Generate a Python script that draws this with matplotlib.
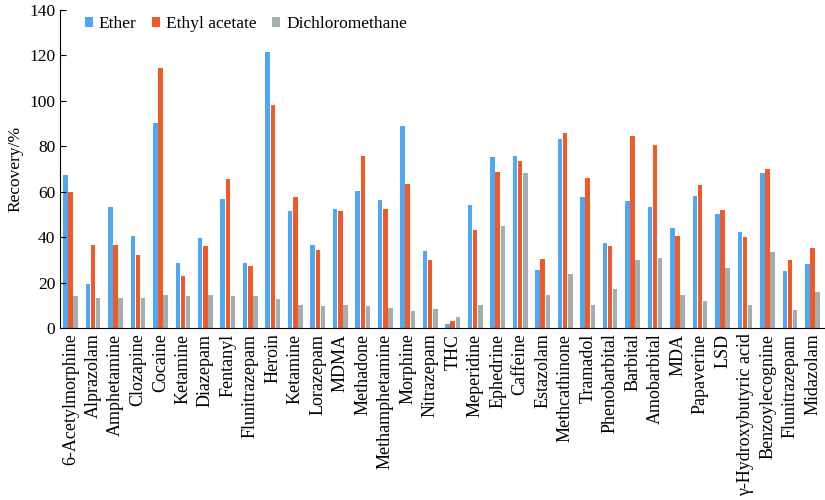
import matplotlib
matplotlib.use("Agg")
import matplotlib.pyplot as plt
import numpy as np

plt.rcParams['font.family'] = ['Liberation Serif', 'DejaVu Serif']

drugs = ['6-Acetylmorphine', 'Alprazolam', 'Amphetamine', 'Clozapine', 'Cocaine',
         'Ketamine', 'Diazepam', 'Fentanyl', 'Flunitrazepam', 'Heroin', 'Ketamine',
         'Lorazepam', 'MDMA', 'Methadone', 'Methamphetamine', 'Morphine', 'Nitrazepam',
         'THC', 'Meperidine', 'Ephedrine', 'Caffeine', 'Estazolam', 'Methcathinone',
         'Tramadol', 'Phenobarbital', 'Barbital', 'Amobarbital', 'MDA', 'Papaverine',
         'LSD', 'γ-Hydroxybutyric acid', 'Benzoylecognine', 'Flunitrazepam', 'Midazolam']

ether = [67.2, 19.5, 53.2, 40.5, 90.3, 28.6, 39.7, 56.7, 28.4, 121.4, 51.6,
         36.5, 52.3, 60.3, 56.2, 89.0, 34.0, 1.9, 54.3, 75.2, 75.8, 25.7, 83.1,
         57.8, 37.4, 55.9, 53.4, 44.0, 58.2, 50.3, 42.1, 68.3, 25.2, 28.3]
ethyl_acetate = [59.8, 36.5, 36.4, 32.3, 114.5, 22.7, 36.1, 65.8, 27.4, 98.2, 57.8,
                 34.2, 51.5, 75.7, 52.5, 63.5, 30.0, 3.2, 43.3, 68.6, 73.5, 30.2, 85.8,
                 66.0, 36.1, 84.5, 80.6, 40.6, 63.0, 52.0, 40.2, 70.1, 30.0, 35.3]
dichloromethane = [13.9, 13.3, 13.3, 13.3, 14.4, 14.2, 14.7, 13.9, 13.9, 12.8, 10.0,
                   9.5, 10.0, 9.7, 8.8, 7.6, 8.5, 5.0, 10.3, 45.0, 68.3, 14.7, 23.9,
                   10.3, 17.2, 30.0, 30.8, 14.4, 12.0, 26.5, 10.3, 33.6, 7.9, 16.0]

fig = plt.figure(figsize=(8.25, 5), dpi=100)
ax = fig.add_axes([0.073, 0.344, 0.927, 0.636])

x = np.arange(len(drugs))
w = 0.2
step = 0.225
ax.bar(x - step, ether, w, color='#4ea8f4', label='Ether')
ax.bar(x, ethyl_acetate, w, color='#ef5a28', label='Ethyl acetate')
ax.bar(x + step, dichloromethane, w, color='#a2aeb0', label='Dichloromethane')

ax.set_xlim(-0.45, len(drugs) - 0.45)
ax.set_ylim(0, 140)
ax.set_yticks(range(0, 141, 20))
ax.set_xticks(x)
ax.set_xticklabels(drugs, rotation=90, fontsize=13)
ax.tick_params(axis='y', direction='in', length=4, labelsize=12.5)
ax.tick_params(axis='x', length=0, pad=4)
ax.spines['top'].set_visible(False)
ax.spines['right'].set_visible(False)
ax.set_ylabel('Recovery/%', fontsize=12.5)

ax.legend(loc='upper left', bbox_to_anchor=(0.012, 1.03), ncol=3, frameon=False,
          fontsize=12.5, handlelength=0.45, handleheight=0.45, handletextpad=0.35,
          columnspacing=0.9)

fig.savefig('out.png', dpi=100)
